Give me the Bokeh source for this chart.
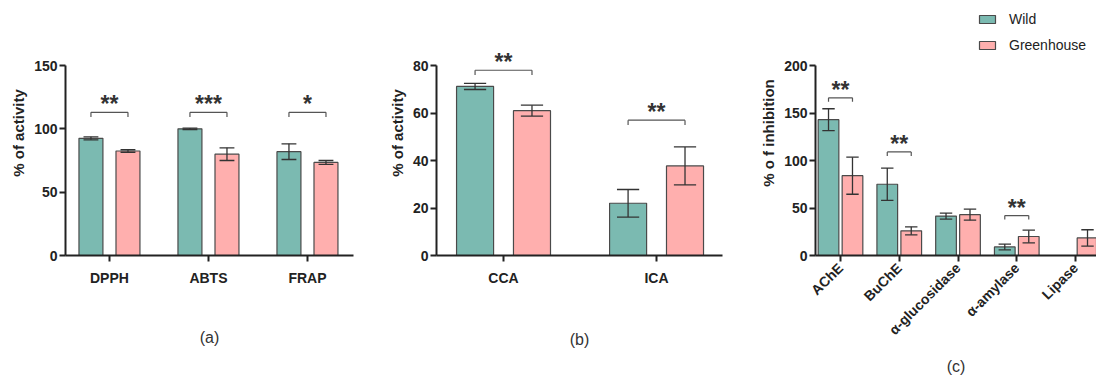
import math
from bokeh.plotting import figure
from bokeh.models import Range1d, FixedTicker, Legend, LegendItem
from bokeh.layouts import row
from bokeh.embed import file_html
from bokeh.resources import INLINE
from bokeh.core.properties import value

# ---------------- data ----------------
a_cats = ["DPPH", "ABTS", "FRAP"]
a_wild = [92.5, 100.0, 82.0]
a_wild_err = [1.2, 0.6, 6.2]
a_green = [82.5, 80.0, 73.5]
a_green_err = [1.0, 5.0, 1.5]
a_sig = ["**", "***", "*"]
a_sig_level = [113, 113, 113]
a_yticks = [0, 50, 100, 150]

b_cats = ["CCA", "ICA"]
b_wild = [71.2, 22.0]
b_wild_err = [1.3, 5.8]
b_green = [61.0, 37.7]
b_green_err = [2.3, 8.0]
b_sig = ["**", "**"]
b_sig_level = [78, 57]
b_yticks = [0, 20, 40, 60, 80]

c_cats = ["AChE", "BuChE", "α-glucosidase", "α-amylase", "Lipase"]
c_wild = [143.0, 75.0, 41.5, 9.0, 0.0]
c_wild_err = [11.5, 17.0, 3.2, 3.0, 0.0]
c_green = [84.0, 26.0, 43.0, 20.0, 18.5]
c_green_err = [19.5, 4.2, 5.8, 6.7, 8.6]
c_sig = ["**", "**", "", "**", ""]
c_sig_level = [166, 109, 0, 42, 0]
c_yticks = [0, 50, 100, 150, 200]

series_names = ["Wild", "Greenhouse"]

TEAL = "#7bbab1"
PINK = "#ffafae"
EDGE = "#4a4a4a"
FONT = "Liberation Sans"

FIG_H = 380
TOP = 10
FRAME_H = 245
BOTTOM = FIG_H - TOP - FRAME_H


def panel(cats, wild, wild_err, green, green_err, sig, sig_level, yticks,
          ylabel, width, bl, br, xr, ytop, bar_w, off, cap_frac, tip,
          caption, cap_standoff, rotate=False):
    p = figure(width=width, height=FIG_H, x_range=Range1d(*xr),
               y_range=Range1d(0, ytop), output_backend="svg",
               toolbar_location=None, min_border_left=bl,
               min_border_right=br, min_border_top=TOP,
               min_border_bottom=BOTTOM)
    p.xgrid.visible = False
    p.ygrid.visible = False
    p.outline_line_color = None
    p.background_fill_color = "white"
    n = len(cats)
    xs = list(range(n))
    xw = [x - off for x in xs]
    xg = [x + off for x in xs]
    rw = p.vbar(x=xw, top=wild, width=bar_w, fill_color=TEAL,
                line_color=EDGE, line_width=1.2)
    rg = p.vbar(x=xg, top=green, width=bar_w, fill_color=PINK,
                line_color=EDGE, line_width=1.2)
    cw = bar_w * cap_frac / 2
    for xx, vv, ee in ((xw, wild, wild_err), (xg, green, green_err)):
        lo = [v - e for v, e in zip(vv, ee)]
        hi = [v + e for v, e in zip(vv, ee)]
        keep = [i for i in range(n) if ee[i] > 0]
        x0 = [xx[i] for i in keep]
        p.segment(x0=x0, x1=x0, y0=[lo[i] for i in keep],
                  y1=[hi[i] for i in keep], line_color="#333333",
                  line_width=1.3)
        p.segment(x0=[x - cw for x in x0], x1=[x + cw for x in x0],
                  y0=[hi[i] for i in keep], y1=[hi[i] for i in keep],
                  line_color="#333333", line_width=1.3)
        p.segment(x0=[x - cw for x in x0], x1=[x + cw for x in x0],
                  y0=[lo[i] for i in keep], y1=[lo[i] for i in keep],
                  line_color="#333333", line_width=1.3)
    idx = [i for i in range(n) if sig[i]]
    bxl = [xw[i] for i in idx]
    bxr = [xg[i] for i in idx]
    lv = [sig_level[i] for i in idx]
    p.segment(x0=bxl, x1=bxr, y0=lv, y1=lv, line_color="#555555",
              line_width=1.2)
    p.segment(x0=bxl, x1=bxl, y0=lv, y1=[v - tip for v in lv],
              line_color="#555555", line_width=1.2)
    p.segment(x0=bxr, x1=bxr, y0=lv, y1=[v - tip for v in lv],
              line_color="#555555", line_width=1.2)
    p.text(x=[xs[i] for i in idx], y=lv, text=[sig[i] for i in idx],
           text_align="center", text_baseline="middle", y_offset=-8,
           text_font=value(FONT), text_font_style="bold",
           text_font_size="23px", text_color="#333333")

    p.yaxis.bounds = (0, yticks[-1])
    p.yaxis.ticker = FixedTicker(ticks=yticks)
    p.xaxis.ticker = FixedTicker(ticks=xs)
    p.xaxis.major_label_overrides = {i: c for i, c in enumerate(cats)}
    for ax in (p.xaxis[0], p.yaxis[0]):
        ax.axis_line_width = 2
        ax.axis_line_color = "#222222"
        ax.major_tick_line_width = 2
        ax.major_tick_line_color = "#222222"
        ax.major_tick_out = 6
        ax.major_tick_in = 0
        ax.minor_tick_line_color = None
        ax.major_label_text_font = FONT
        ax.major_label_text_font_style = "bold"
        ax.major_label_text_font_size = "14px"
        ax.major_label_text_color = "#222222"
    p.yaxis.major_label_standoff = 2
    p.xaxis.major_label_standoff = 8
    p.yaxis.axis_label = ylabel
    p.yaxis.axis_label_text_font = FONT
    p.yaxis.axis_label_text_font_style = "bold"
    p.yaxis.axis_label_text_font_size = "15px"
    p.yaxis.axis_label_text_color = "#222222"
    p.yaxis.axis_label_standoff = 4
    if rotate:
        p.xaxis.major_label_orientation = math.pi / 4
        p.xaxis.major_label_standoff = 4
    p.xaxis.axis_label = caption
    p.xaxis.axis_label_text_font = FONT
    p.xaxis.axis_label_text_font_style = "normal"
    p.xaxis.axis_label_text_font_size = "16px"
    p.xaxis.axis_label_text_color = "#333333"
    p.xaxis.axis_label_standoff = cap_standoff
    return p, rw, rg


pa, _, _ = panel(a_cats, a_wild, a_wild_err, a_green, a_green_err, a_sig,
                 a_sig_level, a_yticks, "% of activity", 380, 65, 27,
                 (-0.444, 2.465), FRAME_H / (190 / 150), 0.242, 0.187, 0.62,
                 3.6, "(a)", 40)
pb, _, _ = panel(b_cats, b_wild, b_wild_err, b_green, b_green_err, b_sig,
                 b_sig_level, b_yticks, "% of activity", 375, 56, 33,
                 (-0.438, 1.431), FRAME_H / (190 / 80), 0.242, 0.186, 0.6,
                 2.0, "(b)", 42)
pc, rw, rg = panel(c_cats, c_wild, c_wild_err, c_green, c_green_err, c_sig,
                   c_sig_level, c_yticks, "% o f inhibition", 341, 60, 0,
                   (-0.4255, 4.357), FRAME_H / 0.95, 0.352, 0.204, 0.6,
                   4.2, "(c)", 12, rotate=True)

legend = Legend(items=[LegendItem(label=series_names[0], renderers=[rw]),
                       LegendItem(label=series_names[1], renderers=[rg])],
                location=(162, 200), orientation="vertical")
legend.glyph_width = 20
legend.glyph_height = 10
legend.label_height = 20
legend.spacing = 6
legend.padding = 0
legend.margin = 0
legend.label_standoff = 12
legend.label_text_font = FONT
legend.label_text_font_size = "14px"
legend.label_text_color = "#222222"
legend.border_line_alpha = 0
legend.background_fill_alpha = 0
pc.add_layout(legend)

layout = row(pa, pb, pc)
open("out.html", "w").write(file_html(layout, INLINE))
